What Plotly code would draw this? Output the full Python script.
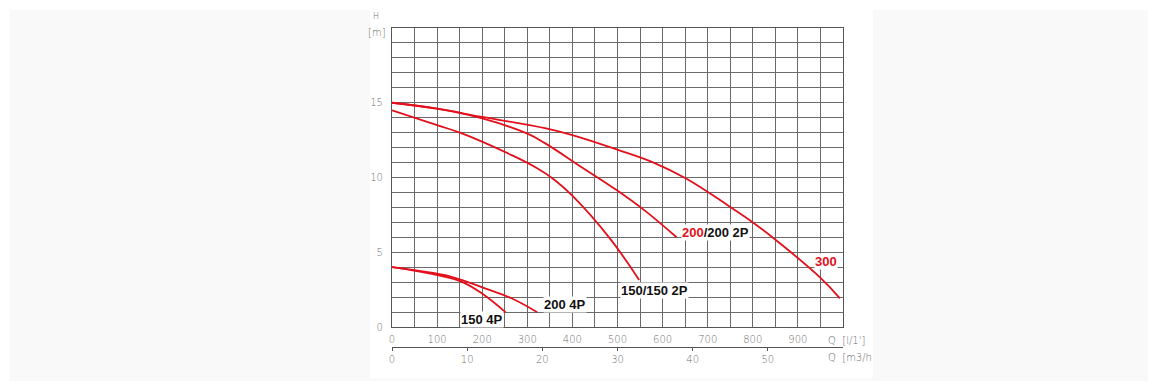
import plotly.graph_objects as go

# ---- data (Q in l/min, H in m) ----
Q300 = [0, 100, 200, 339, 400, 498, 580, 653, 749, 801, 853, 949, 993]
H300 = [15, 14.6, 14.05, 13.3, 12.84, 11.88, 11.0, 9.92, 8.05, 6.98, 5.77, 3.32, 1.92]

Q200 = [0, 100, 200, 299, 339, 417, 498, 560, 631]
H200 = [15, 14.6, 13.95, 12.95, 12.3, 10.76, 9.16, 7.8, 6.0]

Q150 = [0, 100, 155, 265, 320, 360, 402, 483, 548]
H150 = [14.5, 13.5, 12.95, 11.5, 10.65, 9.85, 8.72, 5.93, 3.14]

Q150_4P = [0, 58, 132, 160, 199, 252]
H150_4P = [4.0, 3.72, 3.25, 2.95, 2.25, 0.98]

Q200_4P = [0, 60, 132, 206, 265, 322]
H200_4P = [4.0, 3.75, 3.36, 2.59, 1.92, 0.98]

x_ticks_lmin = [0, 100, 200, 300, 400, 500, 600, 700, 800, 900]
x_ticks_m3h = [0, 10, 20, 30, 40, 50]
y_ticks = [0, 5, 10, 15]

# label positions (Q, H) and texts
labels = [
    ("150 4P", 200, 0.47),
    ("200 4P", 384, 1.5),
    ("150/150 2P", 581, 2.41),
    ("<span style='color:#e3101b'>200</span>/200 2P", 718, 6.35),
    ("<span style='color:#e3101b'>300</span>", 962, 4.41),
]

RED = "#e3101b"
GRID = "#6a6a6a"
AX = "#555555"
TICKFONT = dict(family="DejaVu Sans", size=10, color="#6e6e6e", weight=300)

fig = go.Figure()
series = [(Q300, H300), (Q200, H200), (Q150, H150), (Q150_4P, H150_4P), (Q200_4P, H200_4P)]
for q, h in series:
    fig.add_trace(go.Scatter(x=q, y=h, mode="lines", line=dict(color=RED, width=1.8, shape="spline", smoothing=1.2),
                             showlegend=False, hoverinfo="skip"))
# dummy trace for secondary axis
fig.add_trace(go.Scatter(x=[None], y=[None], xaxis="x2", yaxis="y", showlegend=False, hoverinfo="skip"))

for txt, q, h in labels:
    fig.add_annotation(x=q, y=h, xref="x", yref="y", text=txt, showarrow=False,
                       font=dict(family="Liberation Sans", size=13, color="#111111", weight="bold"),
                       bgcolor="white", borderpad=0, xanchor="center", yanchor="middle")

W, H = 1158, 391
OFF = 8  # page body margin
L, R, T, B = 392, 843, 28, 347
def px(xp):
    return (xp - L) / (R - L)
def py(yp):
    return (B - yp) / (B - T)

# axis captions
cap = dict(family="DejaVu Sans", size=10, color="#6e6e6e", weight=300)
fig.add_annotation(x=px(826), y=py(340), xref="paper", yref="paper", text="Q  [l/1']", showarrow=False,
                   xanchor="left", yanchor="middle", font=cap)
fig.add_annotation(x=px(826), y=py(357), xref="paper", yref="paper", text="Q  [m3/h", showarrow=False,
                   xanchor="left", yanchor="middle", font=cap)
fig.add_annotation(x=px(376), y=py(17), xref="paper", yref="paper", text="H", showarrow=False,
                   xanchor="center", yanchor="middle", font=dict(family="DejaVu Sans", size=8, color="#6e6e6e", weight=300))
fig.add_annotation(x=px(377), y=py(33), xref="paper", yref="paper", text="[m]", showarrow=False,
                   xanchor="center", yanchor="middle", font=cap)

# faint background panels
fig.add_shape(type="rect", xref="paper", yref="paper", x0=px(10), x1=px(1148), y0=py(10), y1=py(381),
              fillcolor="#f9f9f9", line=dict(width=0), layer="below")
fig.add_shape(type="rect", xref="paper", yref="paper", x0=px(370), x1=px(873), y0=py(0), y1=py(378),
              fillcolor="#ffffff", line=dict(width=0), layer="below")

fig.update_layout(
    width=W, height=H, autosize=False,
    margin=dict(l=L - OFF, r=W - R + OFF, t=T - OFF, b=H - B + OFF, pad=0),
    paper_bgcolor="white", plot_bgcolor="rgba(0,0,0,0)",
    xaxis=dict(range=[0, 1000], tickvals=x_ticks_lmin, ticks="", showgrid=True, gridcolor=GRID, gridwidth=1,
               minor=dict(dtick=50, showgrid=True, gridcolor=GRID, gridwidth=1),
               showline=True, linecolor=AX, linewidth=1.2, mirror=True, zeroline=False,
               tickfont=TICKFONT, ticklabelstandoff=3, anchor="y"),
    xaxis2=dict(range=[0, 60], tickvals=x_ticks_m3h, ticks="outside", ticklen=3, tickcolor=AX,
                showgrid=False, showline=True, linecolor=AX, linewidth=1, zeroline=False,
                anchor="free", position=0, overlaying="x", side="bottom", tickfont=TICKFONT),
    yaxis=dict(range=[0, 20], domain=[(B - 327) / (B - T), 1], tickvals=y_ticks, ticks="", showgrid=True,
               gridcolor=GRID, gridwidth=1, minor=dict(dtick=1, showgrid=True, gridcolor=GRID, gridwidth=1),
               showline=True, linecolor=AX, linewidth=1.2, mirror=True, zeroline=False,
               tickfont=TICKFONT, ticklabelstandoff=6),
)

fig.write_html("out.html")
